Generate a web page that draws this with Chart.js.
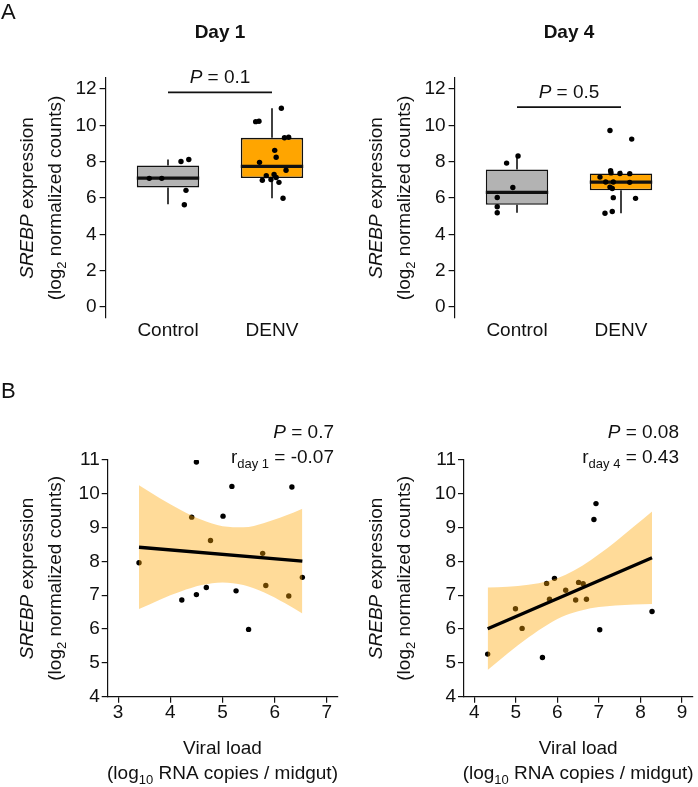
<!DOCTYPE html>
<html><head><meta charset="utf-8">
<script src="https://cdn.jsdelivr.net/npm/chart.js@4.4.1/dist/chart.umd.min.js"></script>
<style>
html,body{margin:0;padding:0;background:#fff;}
#wrap{position:relative;width:698px;height:787px;background:#fff;}
canvas{position:absolute;}
</style></head><body>
<div id="wrap">
<canvas id="a1" width="349" height="350" style="left:0;top:0"></canvas>
<canvas id="a4" width="349" height="350" style="left:349px;top:0"></canvas>
<canvas id="b1" width="349" height="437" style="left:0;top:350px"></canvas>
<canvas id="b4" width="349" height="437" style="left:349px;top:350px"></canvas>
</div>
<script>
// ---------------- DATA ----------------
const groups = ['Control', 'DENV'];
const yTicksA = [0, 2, 4, 6, 8, 10, 12];

// Panel A, Day 1 (per-sample values + jittered x positions)
const day1ControlY = [7.08, 7.08, 8.01, 8.12, 6.42, 5.63];
const day1ControlX = [0.82, 0.94, 1.125, 1.20, 1.173, 1.157];
const day1DenvY = [10.94, 10.20, 10.22, 9.31, 9.34, 8.62, 8.24, 7.96, 7.53, 7.29, 7.23, 7.13, 7.02, 6.98, 6.86, 5.99];
const day1DenvX = [2.09, 1.843, 1.875, 2.12, 2.16, 2.026, 2.04, 1.88, 2.135, 2.02, 1.945, 2.04, 1.99, 1.907, 2.067, 2.106];
const day1Q1 = [6.58, 7.10];
const day1Median = [7.09, 7.74];
const day1Q3 = [7.79, 9.31];
const day1WhiskerLow = [5.66, 5.99];
const day1WhiskerHigh = [8.12, 10.94];
const day1BracketY = 11.81;
const day1P = '0.1';

// Panel A, Day 4
const day4ControlY = [5.19, 5.52, 6.03, 6.58, 7.92, 8.31];
const day4ControlX = [0.81, 0.81, 0.81, 0.96, 0.90, 1.01];
const day4DenvY = [9.71, 9.24, 7.15, 7.50, 7.38, 7.35, 7.34, 6.88, 6.88, 6.86, 6.60, 6.52, 6.02, 5.98, 5.16, 5.26];
const day4DenvX = [1.894, 2.103, 1.798, 1.90, 1.904, 1.99, 2.084, 1.853, 1.926, 2.084, 1.894, 1.916, 1.926, 2.14, 1.846, 1.916];
const day4Q1 = [5.63, 6.42];
const day4Median = [6.31, 6.87];
const day4Q3 = [7.57, 7.35];
const day4WhiskerLow = [5.19, 5.16];
const day4WhiskerHigh = [8.31, 7.50];
const day4BracketY = 11.0;
const day4P = '0.5';

// Panel B
const yTicksB = [4, 5, 6, 7, 8, 9, 10, 11];
const xTicksB1 = [3, 4, 5, 6, 7];
const xTicksB4 = [4, 5, 6, 7, 8, 9];

const loadDay1 = [3.40, 4.22, 4.41, 4.50, 4.50, 4.69, 4.77, 5.01, 5.18, 5.26, 5.50, 5.77, 5.83, 6.27, 6.33, 6.53];
const srebpDay1 = [7.96, 6.86, 9.31, 10.94, 7.02, 7.23, 8.62, 9.34, 10.22, 7.13, 5.99, 8.24, 7.29, 6.98, 10.20, 7.53];
const fitXDay1 = [3.40, 6.53];
const fitYDay1 = [8.42, 8.01];
const bandXDay1 = [3.4, 3.8, 4.2, 4.6, 5.0, 5.4, 5.8, 6.2, 6.53];
const bandUpperDay1 = [10.25, 9.87, 9.52, 9.23, 9.04, 9.01, 9.14, 9.35, 9.56];
const bandLowerDay1 = [6.59, 6.87, 7.11, 7.30, 7.38, 7.30, 7.08, 6.76, 6.46];
const pDay1 = '0.7';
const rDay1 = '-0.07';

const loadDay4 = [4.32, 4.99, 5.15, 5.64, 5.74, 5.81, 5.93, 6.20, 6.44, 6.51, 6.62, 6.70, 6.88, 6.93, 7.02, 8.28];
const srebpDay4 = [5.26, 6.60, 6.02, 5.16, 7.35, 6.88, 7.50, 7.15, 6.86, 7.38, 7.34, 6.88, 9.24, 9.71, 5.98, 6.52];
const fitXDay4 = [4.32, 8.28];
const fitYDay4 = [6.01, 8.11];
const bandXDay4 = [4.32, 4.8, 5.3, 5.8, 6.2, 6.6, 7.0, 7.4, 7.85, 8.28];
const bandUpperDay4 = [7.23, 7.25, 7.31, 7.43, 7.61, 7.87, 8.21, 8.58, 9.04, 9.48];
const bandLowerDay4 = [4.79, 5.28, 5.75, 6.16, 6.41, 6.56, 6.65, 6.70, 6.73, 6.74];
const pDay4 = '0.08';
const rDay4 = '0.43';

// ---------------- STYLE / HELPERS ----------------
const FAM = '"Liberation Sans", Arial, Helvetica, sans-serif';
const INK = '#111';
const FS = 19;
Chart.defaults.font.family = FAM;
Chart.defaults.font.size = FS;
Chart.defaults.color = INK;

function segFont(s, size) {
  const sz = s.sub ? Math.round(size * 0.7) : size;
  return (s.i ? 'italic ' : '') + (s.b ? 'bold ' : '') + sz + 'px ' + FAM;
}
function drawRich(ctx, segs, x, y, size, align, rot) {
  ctx.save();
  ctx.translate(x, y);
  if (rot) ctx.rotate(rot);
  let w = 0;
  for (const s of segs) { ctx.font = segFont(s, size); w += ctx.measureText(s.t).width; }
  let cx = align === 'center' ? -w / 2 : (align === 'right' ? -w : 0);
  ctx.textAlign = 'left';
  ctx.textBaseline = 'alphabetic';
  ctx.fillStyle = INK;
  for (const s of segs) {
    ctx.font = segFont(s, size);
    ctx.fillText(s.t, cx, s.sub ? size * 0.26 : 0);
    cx += ctx.measureText(s.t).width;
  }
  ctx.restore();
}
const yTitle1 = [{t: 'SREBP', i: true}, {t: ' expression'}];
const yTitle2 = [{t: '(log'}, {t: '2', sub: true}, {t: ' normalized counts)'}];

function axisCommon(tickLen) {
  return {
    grid: {display: true, drawOnChartArea: false, drawTicks: true, tickLength: tickLen, color: INK, lineWidth: 1.2},
    border: {display: true, color: INK, width: 1.2}
  };
}

// ---------------- BOX PLOT PANELS ----------------
function boxChart(id, spec) {
  const pts = spec.ctrlX.map((x, i) => ({x, y: spec.ctrlY[i]}))
    .concat(spec.denvX.map((x, i) => ({x, y: spec.denvY[i]})));
  const boxes = groups.map((g, i) => ({x: i + 1, y: [spec.q1[i], spec.q3[i]]}));
  const whisk = [];
  const meds = [];
  groups.forEach((g, i) => {
    whisk.push({x: i + 1, y: spec.q3[i]}, {x: i + 1, y: spec.hi[i]}, {x: i + 1, y: null},
               {x: i + 1, y: spec.q1[i]}, {x: i + 1, y: spec.lo[i]}, {x: i + 1, y: null});
    meds.push({x: i + 1 - 0.3, y: spec.med[i]}, {x: i + 1 + 0.3, y: spec.med[i]}, {x: i + 1, y: null});
  });
  const textPlugin = {
    id: 'txt' + id,
    afterDraw(chart) {
      const ctx = chart.ctx;
      const a = chart.chartArea;
      const xs = chart.scales.x, ys = chart.scales.y;
      if (spec.letter) drawRich(ctx, [{t: spec.letter}], 1, 19, 22, 'left');
      drawRich(ctx, [{t: spec.title, b: true}], (a.left + a.right) / 2, 38, FS, 'center');
      drawRich(ctx, [{t: 'P', i: true}, {t: ' = ' + spec.p}], xs.getPixelForValue(1.5),
               ys.getPixelForValue(spec.bracketY) - 9, FS, 'center');
      const cy = (a.top + a.bottom) / 2;
      drawRich(ctx, yTitle1, 33, cy, FS, 'center', -Math.PI / 2);
      drawRich(ctx, yTitle2, 61, cy, FS, 'center', -Math.PI / 2);
    }
  };
  const c = axisCommon(6);
  return new Chart(document.getElementById(id), {
    type: 'bar',
    data: {
      datasets: [
        {type: 'scatter', data: pts, pointRadius: 2.7, backgroundColor: '#000', borderWidth: 0, order: 0},
        {type: 'line', data: [{x: 1, y: spec.bracketY}, {x: 2, y: spec.bracketY}], borderColor: INK,
         borderWidth: 1.6, pointRadius: 0, fill: false, order: 1},
        {type: 'line', data: meds, borderColor: INK, borderWidth: 3.2, pointRadius: 0, fill: false,
         borderCapStyle: 'butt', order: 2},
        {type: 'bar', data: boxes, backgroundColor: ['#B3B3B3', '#FFA500'], borderColor: INK, borderWidth: 1.6,
         borderSkipped: false, barPercentage: 1, categoryPercentage: 0.6, order: 3},
        {type: 'line', data: whisk, borderColor: INK, borderWidth: 1.6, pointRadius: 0, fill: false, order: 4}
      ]
    },
    options: {
      responsive: false, animation: false, devicePixelRatio: 1,
      layout: {padding: {top: 78, right: 14.6, left: 0, bottom: 0}},
      plugins: {legend: {display: false}, tooltip: {enabled: false}},
      scales: {
        x: {
          type: 'linear', min: 0.4, max: 2.6, offset: false,
          afterBuildTicks: s => { s.ticks = groups.map((g, i) => ({value: i + 1})); },
          afterFit: s => { s.height = 32; },
          ticks: {padding: 3, maxRotation: 0, autoSkip: false, font: {size: FS, lineHeight: 1},
                  callback: v => groups[Math.round(v) - 1]},
          grid: {display: false, drawTicks: false, offset: false},
          border: {display: false}
        },
        y: {
          type: 'linear', min: -0.6, max: 12.6,
          afterBuildTicks: s => { s.ticks = yTicksA.map(v => ({value: v})); },
          afterFit: s => { s.width = 105.6; },
          ticks: {padding: 3, font: {size: FS}},
          grid: c.grid, border: c.border
        }
      }
    },
    plugins: [textPlugin]
  });
}

boxChart('a1', {letter: 'A', title: 'Day 1', ctrlX: day1ControlX, ctrlY: day1ControlY, denvX: day1DenvX, denvY: day1DenvY,
  q1: day1Q1, med: day1Median, q3: day1Q3, lo: day1WhiskerLow, hi: day1WhiskerHigh, bracketY: day1BracketY, p: day1P});
boxChart('a4', {letter: null, title: 'Day 4', ctrlX: day4ControlX, ctrlY: day4ControlY, denvX: day4DenvX, denvY: day4DenvY,
  q1: day4Q1, med: day4Median, q3: day4Q3, lo: day4WhiskerLow, hi: day4WhiskerHigh, bracketY: day4BracketY, p: day4P});

// ---------------- CORRELATION PANELS ----------------
function corrChart(id, spec) {
  const pts = spec.x.map((x, i) => ({x, y: spec.y[i]}));
  const fit = spec.fitX.map((x, i) => ({x, y: spec.fitY[i]}));
  const up = spec.bandX.map((x, i) => ({x, y: spec.up[i]}));
  const lo = spec.bandX.map((x, i) => ({x, y: spec.lo[i]}));
  const textPlugin = {
    id: 'txt' + id,
    afterDraw(chart) {
      const ctx = chart.ctx;
      const a = chart.chartArea;
      if (spec.letter) drawRich(ctx, [{t: spec.letter}], 1, 48, 22, 'left');
      const cx = (a.left + a.right) / 2;
      drawRich(ctx, [{t: 'Viral load'}], cx, 404, FS, 'center');
      drawRich(ctx, [{t: '(log'}, {t: '10', sub: true}, {t: ' RNA copies / midgut)'}], cx, 429, FS, 'center');
      const cy = (a.top + a.bottom) / 2;
      drawRich(ctx, yTitle1, 33, cy, FS, 'center', -Math.PI / 2);
      drawRich(ctx, yTitle2, 61, cy, FS, 'center', -Math.PI / 2);
      drawRich(ctx, [{t: 'P', i: true}, {t: ' = ' + spec.p}], spec.noteRight, 88, FS, 'right');
      drawRich(ctx, [{t: 'r'}, {t: spec.rsub, sub: true}, {t: ' = ' + spec.r}], spec.noteRight, 113, FS, 'right');
    }
  };
  const c = axisCommon(6);
  return new Chart(document.getElementById(id), {
    type: 'scatter',
    data: {
      datasets: [
        {type: 'line', data: fit, borderColor: '#000', borderWidth: 3.3, pointRadius: 0, fill: false, order: 0},
        {type: 'line', data: up, borderWidth: 0, borderColor: 'rgba(0,0,0,0)', pointRadius: 0,
         cubicInterpolationMode: 'monotone', fill: '+1', backgroundColor: 'rgba(255,165,0,0.4)', order: 1},
        {type: 'line', data: lo, borderWidth: 0, borderColor: 'rgba(0,0,0,0)', pointRadius: 0,
         cubicInterpolationMode: 'monotone', fill: false, order: 2},
        {type: 'scatter', data: pts, pointRadius: 2.7, backgroundColor: '#000', borderWidth: 0, order: 3}
      ]
    },
    options: {
      responsive: false, animation: false, devicePixelRatio: 1,
      layout: {padding: {top: 110, right: spec.padRight, left: 0, bottom: 0}},
      plugins: {legend: {display: false}, tooltip: {enabled: false}},
      scales: {
        x: {
          type: 'linear', min: spec.xmin, max: spec.xmax,
          afterBuildTicks: s => { s.ticks = spec.xTicks.map(v => ({value: v})); },
          afterFit: s => { s.height = 90.3; },
          ticks: {padding: 1, maxRotation: 0, autoSkip: false, font: {size: FS, lineHeight: 1}},
          grid: c.grid, border: c.border
        },
        y: {
          type: 'linear', min: 4, max: 11,
          afterBuildTicks: s => { s.ticks = yTicksB.map(v => ({value: v})); },
          afterFit: s => { s.width = spec.left; },
          ticks: {padding: 2, font: {size: FS}},
          grid: c.grid, border: c.border
        }
      }
    },
    plugins: [textPlugin]
  });
}

corrChart('b1', {letter: 'B', x: loadDay1, y: srebpDay1, fitX: fitXDay1, fitY: fitYDay1, bandX: bandXDay1,
  up: bandUpperDay1, lo: bandLowerDay1, xmin: 2.8, xmax: 7.2, xTicks: xTicksB1, left: 107.7, padRight: 11.7,
  p: pDay1, r: rDay1, rsub: 'day 1', noteRight: 334});
corrChart('b4', {letter: null, x: loadDay4, y: srebpDay4, fitX: fitXDay4, fitY: fitYDay4, bandX: bandXDay4,
  up: bandUpperDay4, lo: bandLowerDay4, xmin: 3.75, xmax: 9.25, xTicks: xTicksB4, left: 115, padRight: 5.7,
  p: pDay4, r: rDay4, rsub: 'day 4', noteRight: 330});
</script>
</body></html>
